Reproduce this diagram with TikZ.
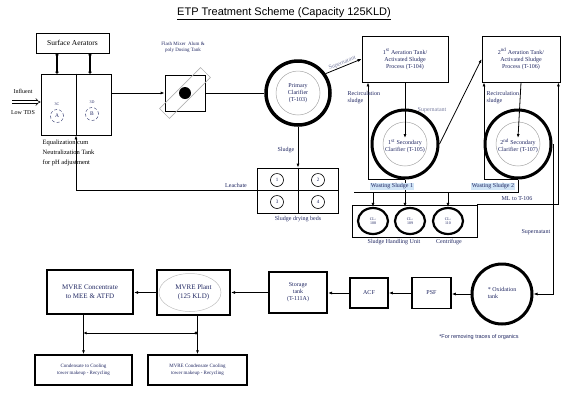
\documentclass[tikz,border=0pt]{standalone}
\usepackage{fontspec}
\setmainfont{Liberation Serif}
\newfontfamily\arialf{Liberation Sans}
\usetikzlibrary{arrows.meta,shapes.geometric,calc}
\definecolor{navy}{rgb}{0.12,0.15,0.38}
\definecolor{hl}{rgb}{0.82,0.9,0.97}
\begin{document}
\begin{tikzpicture}[x=1pt,y=-1pt,
  fs/.style={font=\fontsize{6}{7}\selectfont},
  box/.style={draw,line width=0.8pt,align=center,fs,text=navy,inner sep=1pt},
  tbox/.style={box,line width=2pt},
  lbl/.style={fs,text=navy,inner sep=0.5pt,align=center},
  conn/.style={line width=0.8pt,-{Latex[length=4pt,width=3pt]}},
  plain/.style={line width=0.8pt},
  ring/.style={draw,ellipse,line width=3pt,align=center,fs,text=navy,inner sep=0pt},
  inner/.style={draw,circle,gray!70,line width=0.5pt},
  bed/.style={draw,circle,line width=0.6pt,minimum size=13pt,inner sep=0pt,font=\fontsize{5}{6}\selectfont,text=navy},
  dots/.style={line width=1.2pt,{Circle[length=3pt]}-{Circle[length=3pt]}}
]
\useasboundingbox (0,0) rectangle (568,392);

% title
\node[font=\arialf\fontsize{11}{13}\selectfont] (title) at (284,14) {\underline{ETP Treatment Scheme (Capacity 125KLD)}};

% surface aerators and equalization tank
\node[box,text=black,font=\fontsize{7.5}{9}\selectfont,minimum width=73pt,minimum height=20pt] (sa) at (72.5,43) {Surface Aerators};
\node[draw,line width=0.8pt,minimum width=70pt,minimum height=61pt] (eq) at (76,104.5) {};
\draw[plain] (eq.north) -- (eq.south);
\draw[dots] ([xshift=-15.5pt]sa.south) -- ([xshift=-15.5pt]sa.south |- eq.north);
\draw[dots] ([xshift=17.5pt]sa.south) -- ([xshift=17.5pt]sa.south |- eq.north);
\node[draw,circle,densely dashed,navy,minimum size=13pt,inner sep=0pt,font=\fontsize{5.5}{6}\selectfont] (ca) at (57,116) {A};
\node[draw,circle,densely dashed,navy,minimum size=13pt,inner sep=0pt,font=\fontsize{5.5}{6}\selectfont] (cb) at (92,114) {B};
\node[lbl,font=\fontsize{4}{5}\selectfont] (la) at (57,104) {3C};
\node[lbl,font=\fontsize{4}{5}\selectfont] (lb) at (92,102) {3D};
\node[lbl,text=black] (infl) at (23,91) {Influent};
\node[lbl,text=black] (ltds) at (23,113) {Low TDS};
\coordinate (inf) at (12,102);
\draw[double,double distance=2pt,line width=0.6pt,-{Implies}] (inf) -- (inf -| eq.west);
\node[lbl,text=black,anchor=north west,align=left,font=\fontsize{6.5}{10}\selectfont] (eqt) at (42,139) {Equalization cum\\Neutralization Tank\\for pH adjustment};

% flash mixer
\node[draw,line width=0.8pt,minimum width=40pt,minimum height=36pt] (fm) at (185,93) {};
\node[draw,gray!60,line width=0.6pt,rotate=45,minimum width=58pt,minimum height=14pt] (fmr) at (185,93) {};
\node[circle,fill=black,minimum size=12pt,inner sep=0pt] (fmc) at (185,93) {};
\node[lbl,font=\fontsize{5}{6}\selectfont] (fmt) at (183,47) {Flash Mixer \ Alum \&\\poly Dosing Tank};
\draw[conn] (fm.west -| eq.east) -- (fm.west);

% primary clarifier
\node[ring,circle,line width=3.5pt,minimum size=64pt] (pc) at (298,93) {};
\node[inner,minimum size=44pt] (pci) at (298,93) {};
\node[lbl] (pct) at (298,93) {Primary\\Clarifier\\(T-103)};
\draw[plain] (fm.east) -- (pc.west);

% aeration tanks
\node[box,minimum width=86pt,minimum height=46pt] (at1) at (405,59) {1\textsuperscript{st} Aeration Tank/\\Activated Sludge\\Process (T-104)};
\node[box,minimum width=78pt,minimum height=46pt] (at2) at (521,59) {2\textsuperscript{nd} Aeration Tank/\\Activated Sludge\\Process (T-106)};
\draw[conn] (pc.35) -- node[lbl,sloped,above,text=navy!60] (sup1) {Supernatant} (at1.west);

% secondary clarifiers
\node[ring,minimum width=66pt,minimum height=68pt] (sc1) at (405,144) {};
\node[inner,minimum size=44pt] (sc1i) at (405,144) {};
\node[lbl] (sc1t) at (405,146) {1\textsuperscript{st} Secondary\\Clarifier (T-105)};
\node[ring,minimum width=66pt,minimum height=68pt] (sc2) at (518,144) {};
\node[inner,minimum size=44pt] (sc2i) at (518,144) {};
\node[lbl] (sc2t) at (518,146) {2\textsuperscript{nd} Secondary\\Clarifier (T-107)};
\draw[conn] (at1.south) -- ([yshift=6pt]sc1.center);
\draw[conn] (at2.south) -- ([yshift=6pt]sc2.center);
\draw[conn] (sc1.south) -| ([xshift=-37pt]at1.south);
\draw[conn] (sc2.south) -| ([xshift=-37pt]at2.south);
\node[lbl,anchor=west,align=left] (rc1) at (347,98) {Recirculation\\sludge};
\node[lbl,anchor=west,align=left] (rc2) at (486,98) {Recirculation\\sludge};
\draw[conn] (sc1.east) -- (at2.west);
\node[lbl,text=navy!60] (sup2) at (432,110) {Supernatant};

% sludge handling unit
\node[draw,line width=0.8pt,minimum width=125pt,minimum height=32pt] (shu) at (414.5,221) {};
\node[ring,line width=2.2pt,minimum width=30pt,minimum height=26pt,font=\fontsize{4}{4.5}\selectfont] (cl1) at (373,221) {CL-\\108};
\node[ring,line width=2.2pt,minimum width=30pt,minimum height=26pt,font=\fontsize{4}{4.5}\selectfont] (cl2) at (410,221) {CL-\\109};
\node[ring,line width=2.2pt,minimum width=30pt,minimum height=26pt,font=\fontsize{4}{4.5}\selectfont] (cl3) at (448,221) {CL-\\110};
\node[lbl] (shut) at (394,242) {Sludge Handling Unit};
\node[lbl] (cent) at (449,242) {Centrifuge};
\coordinate (hdl) at (354,192);
\draw[plain] (sc2.south) |- (hdl);
\draw[conn] (sc1.south) -- (sc1.south |- cl2.north);
\draw[conn] (cl1.north |- hdl) -- (cl1.north);
\draw[conn] (cl3.north |- hdl) -- (cl3.north);
\node[lbl,fill=hl] (ws1) at (392,186.5) {Wasting Sludge 1};
\node[lbl,fill=hl] (ws2) at (493,186.5) {Wasting Sludge 2};
\draw[conn] (shu.north east) -| ([xshift=-2pt]at2.south east);
\node[lbl] (ml) at (517,199) {ML to T-106};

% sludge drying beds
\node[draw,line width=0.8pt,minimum width=81pt,minimum height=45pt] (sdb) at (298,190.5) {};
\draw[plain] (sdb.north) -- (sdb.south);
\draw[plain] (sdb.west) -- (sdb.east);
\node[bed] (b1) at (277,180) {1};
\node[bed] (b2) at (318,180) {2};
\node[bed] (b3) at (277,202) {3};
\node[bed] (b4) at (318,202) {4};
\node[lbl] (sdbt) at (298,219) {Sludge drying beds};
\draw[conn] (pc.south) -- (sdb.north);
\node[lbl,anchor=east] (sl) at (295,150) {Sludge};
\draw[conn] (sdb.west) -| (eq.south);
\node[lbl] (lea) at (236,185) {Leachate};

% bottom train
\node[ring,circle,line width=3pt,minimum size=60pt] (ox) at (502,294) {};
\node[lbl,align=left] (oxt) at (502,293) {* Oxidation\\tank};
\coordinate (rtop) at (553,144);
\draw[conn] (sc2.east) -- (rtop) |- (ox.east);
\node[lbl,anchor=east] (sup3) at (551,232) {Supernatant};
\node[box,line width=1.5pt,minimum width=39pt,minimum height=31pt] (psf) at (431.5,293) {PSF};
\node[box,line width=1.5pt,minimum width=38pt,minimum height=30pt] (acf) at (369,293) {ACF};
\node[tbox,minimum width=58pt,minimum height=41pt] (st) at (298,292.5) {Storage\\tank\\(T-111A)};
\node[draw,line width=2pt,minimum width=73pt,minimum height=45pt] (mp) at (193.5,292.5) {};
\node[draw,ellipse,gray!50,line width=0.5pt,minimum width=62pt,minimum height=38pt] (mpe) at (190,292.5) {};
\node[lbl,font=\fontsize{7}{8.5}\selectfont] (mpt) at (193.5,292.5) {MVRE Plant\\(125 KLD)};
\node[tbox,font=\fontsize{7}{8.5}\selectfont,minimum width=86pt,minimum height=44pt] (mc) at (90,291.5) {MVRE Concentrate\\to MEE \& ATFD};
\draw[conn] (ox.west) -- (psf.east |- ox.west);
\draw[conn] (psf.west) -- (acf.east |- psf.west);
\draw[conn] (acf.west) -- (st.east |- acf.west);
\draw[conn] (st.west) -- (mp.east |- st.west);
\draw[conn] (mp.west) -- (mc.east |- mp.west);
\node[box,line width=1.5pt,font=\fontsize{5}{6.5}\selectfont,minimum width=97pt,minimum height=30pt] (c1) at (83.5,370) {Condensate to Cooling\\tower makeup - Recycling};
\node[box,line width=1.5pt,font=\fontsize{5}{6.5}\selectfont,minimum width=99pt,minimum height=30pt] (c2) at (197.5,370) {MVRE Condensate Cooling\\tower makeup - Recycling};
\draw[conn] (c1.north |- mc.south) -- (c1.north);
\draw[conn] (c2.north |- mp.south) -- (c2.north);
\coordinate (hh) at (0,333);
\draw[line width=0.8pt,{Latex[length=3pt,width=3pt]}-{Circle[length=3pt]}] (c1.north |- hh) -- (c2.north |- hh);
\node[font=\arialf\fontsize{5.5}{6}\selectfont,text=navy] (fn) at (479,337) {*For removing traces of organics};
\end{tikzpicture}
\end{document}
